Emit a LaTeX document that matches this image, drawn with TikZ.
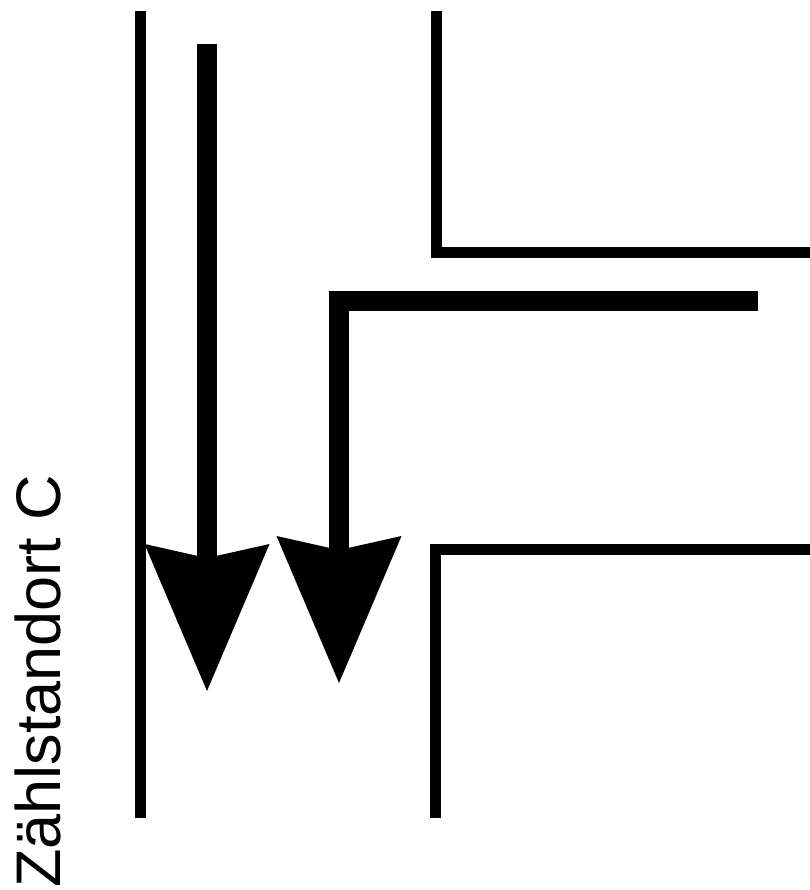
\documentclass[tikz,border=0pt]{standalone}
\usepackage{fontspec}
\setmainfont{Liberation Sans}
\usetikzlibrary{arrows.meta}

\begin{document}
\begin{tikzpicture}[x=1pt, y=-1pt, streetstyle/.style={line width=11pt,line join=miter},
    flowstyle/.style={line width=20.6pt,line join=miter,-{Stealth[length=147pt,width=125pt,inset=14pt,line width=0pt]}}]
    \useasboundingbox (0,0) rectangle (809,890);
    % street edges
    \coordinate (lefttop) at (140.5,11);
    \coordinate (leftbot) at (140.5,818);
    \draw[streetstyle] (lefttop) -- (leftbot);
    \coordinate (uptop) at (436,11);
    \coordinate (upend) at (815,253);
    \draw[streetstyle] (uptop) |- (upend);
    \coordinate (lowbot) at (435,818);
    \coordinate (lowend) at (815,549);
    \draw[streetstyle] (lowbot) |- (lowend);
    % traffic flows
    \coordinate (straightfrom) at (207,44);
    \coordinate (straightto) at (207,691);
    \draw[flowstyle] (straightfrom) -- (straightto);
    \coordinate (turnfrom) at (757.7,301);
    \coordinate (turnto) at (339,683);
    \draw[flowstyle] (turnfrom) -| (turnto);
    \node[rotate=90,anchor=base west,inner sep=0pt,font=\fontsize{63}{63}\selectfont] (label) at (60,888) {Zählstandort C};
\end{tikzpicture}
\end{document}
